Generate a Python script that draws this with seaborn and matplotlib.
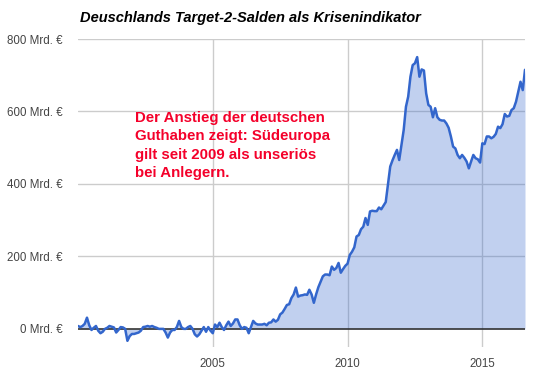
import numpy as np
import pandas as pd
import matplotlib
matplotlib.use('Agg')
import matplotlib.pyplot as plt
import seaborn as sns

# ----------------------------------------------
# Data: monthly Target-2 balance (Mrd. EUR), Jan 2000 - Aug 2016
# ----------------------------------------------

start_year = 2000
saldo = [
    # 2000
    8, 5, 8, 14, 31, 10, -3, 3, 8, -5, -12, -8,
    # 2001
    0, 3, 8, 6, 4, -10, -3, 5, 4, 0, -33, -20,
    # 2002
    -14, -14, -12, -10, -5, 5, 6, 8, 6, 8, 5, 3,
    # 2003
    0, 0, 0, -10, -24, -10, -3, -3, 5, 22, 5, 0,
    # 2004
    0, 5, 8, 0, -15, -21, -15, -5, 5, -8, 5, -5,
    # 2005
    -12, 12, 5, 17, 5, -3, 10, 20, 8, 15, 26, 26,
    # 2006
    10, 0, 5, 3, -12, 5, 22, 15, 12, 12, 12, 14,
    # 2007
    10, 17, 18, 26, 20, 25, 40, 45, 55, 66, 68, 85,
    # 2008
    95, 114, 89, 92, 93, 95, 94, 108, 95, 72, 95, 115,
    # 2009
    130, 145, 150, 150, 148, 172, 163, 168, 182, 155, 165, 174,
    # 2010
    180, 204, 213, 225, 255, 259, 275, 282, 306, 287, 324, 326,
    # 2011
    325, 325, 335, 330, 340, 350, 400, 448, 465, 480, 494, 466,
    # 2012
    508, 549, 613, 641, 696, 728, 733, 750, 696, 716, 713, 650,
    # 2013
    618, 613, 584, 609, 584, 577, 575, 575, 567, 555, 531, 503,
    # 2014
    498, 480, 471, 480, 472, 462, 443, 462, 480, 471, 468, 459,
    # 2015
    512, 510, 531, 531, 526, 530, 538, 558, 554, 565, 593, 586,
    # 2016
    588, 604, 609, 627, 655, 682, 659, 715,
]

y_ticks = [0, 200, 400, 600, 800]
y_labels = [f'{v} Mrd. €' for v in y_ticks]
x_ticks = [2005, 2010, 2015]
title = 'Deuschlands Target-2-Salden als Krisenindikator'
note = ('Der Anstieg der deutschen\nGuthaben zeigt: Südeuropa\n'
        'gilt seit 2009 als unseriös\nbei Anlegern.')

df = pd.DataFrame({'jahr': start_year + np.arange(len(saldo)) / 12, 'saldo': saldo})

# ----------------------------------------------
# Plot
# ----------------------------------------------

sns.set_style('white')
plt.rcParams['font.family'] = ['Liberation Sans', 'DejaVu Sans']

line_color = '#3366cc'
fig = plt.figure(figsize=(5.41, 3.73), dpi=100)
ax = fig.add_axes([78 / 541, 26 / 373, 447 / 541, 308 / 373])

for v in y_ticks[1:]:
    ax.axhline(v, color='#cccccc', lw=1, zorder=0)
for v in x_ticks:
    ax.axvline(v, color='#cccccc', lw=1, zorder=0)

ax.fill_between(df['jahr'], df['saldo'], 0, color=line_color, alpha=0.3, lw=0, zorder=1)
ax.axhline(0, color='#333333', lw=1.2, zorder=2)
sns.lineplot(data=df, x='jahr', y='saldo', color=line_color, lw=1.8, ax=ax, zorder=3)

ax.set_xlim(df['jahr'].iloc[0], df['jahr'].iloc[-1])
ax.set_ylim(-50, 800)
ax.set_yticks(y_ticks)
ax.set_yticklabels(y_labels)
ax.set_xticks(x_ticks)
ax.set_xticklabels([str(v) for v in x_ticks])
ax.tick_params(axis='both', length=0, labelsize=8.3, colors='#444444')
ax.tick_params(axis='y', pad=11)
ax.tick_params(axis='x', pad=8)
ax.set_xlabel('')
ax.set_ylabel('')
sns.despine(ax=ax, left=True, bottom=True)

fig.text(80 / 541, 1 - 18 / 373, title, ha='left', va='center',
         fontsize=10.5, fontweight='bold', style='italic', color='black')
fig.text(135 / 541, 1 - 111 / 373, note, ha='left', va='top',
         fontsize=10.8, fontweight='bold', color='#f4002a', linespacing=1.4)

fig.savefig('out.png', dpi=100)
